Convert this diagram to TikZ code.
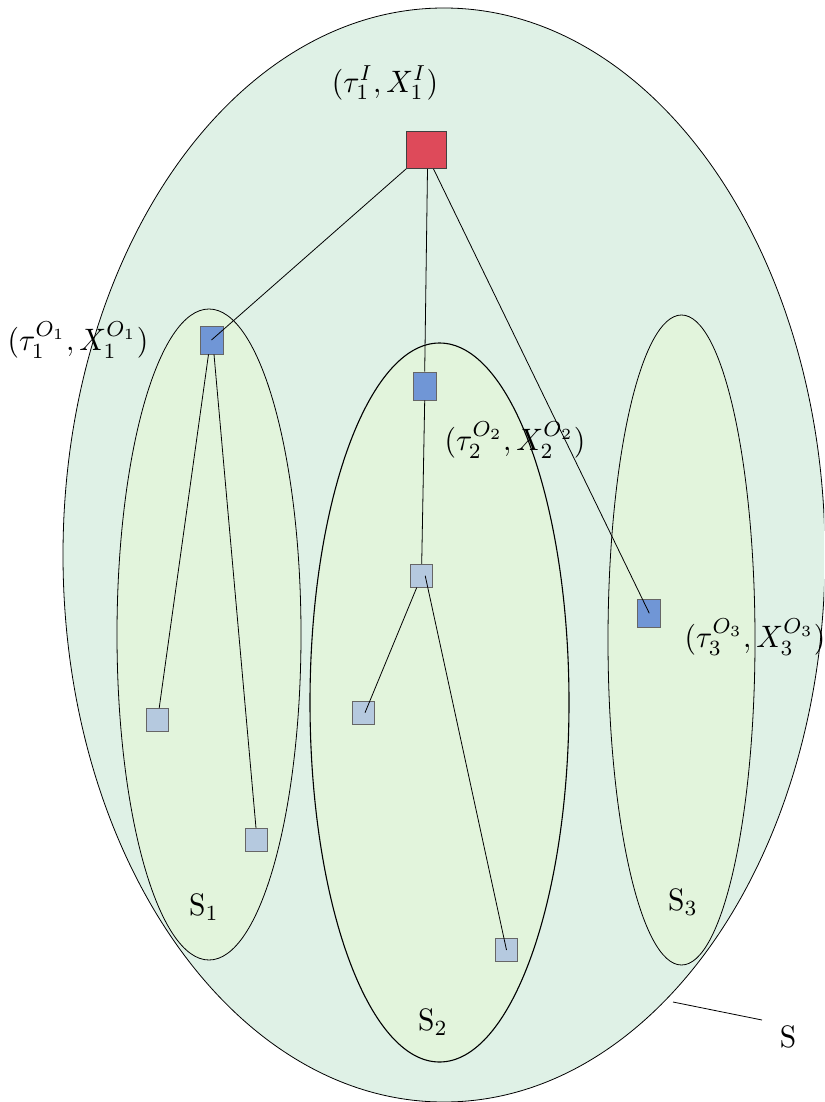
\documentclass[tikz,border=0pt]{standalone}
\begin{document}
\begin{tikzpicture}[x=1pt,y=-1pt,
  outerset/.style={draw=black,fill=outerfill,line width=0.8pt},
  innerset/.style={draw=black,fill=innerfill,line width=0.8pt},
  rootbox/.style={draw=black!75,fill=rootred,minimum width=40pt,minimum height=37pt,inner sep=0pt,line width=0.8pt},
  midbox/.style={draw=black!60,fill=midblue,minimum width=23pt,minimum height=28pt,inner sep=0pt,line width=0.8pt},
  leafbox/.style={draw=black!60,fill=leafblue,minimum width=22pt,minimum height=23pt,inner sep=0pt,line width=0.8pt},
  edge/.style={draw=black,line width=0.8pt},
  lbl/.style={xscale=2.95,yscale=3.1,inner sep=0pt},
]
\definecolor{outerfill}{HTML}{DFF1E6}
\definecolor{innerfill}{HTML}{E2F4DC}
\definecolor{rootred}{HTML}{DE4A5A}
\definecolor{midblue}{HTML}{7096D6}
\definecolor{leafblue}{HTML}{B5C9DF}
\useasboundingbox (0,0) rectangle (824,1102);
\begin{scope}
\clip (0,0) rectangle (824,1102);
\draw[outerset] (444,555) ellipse [x radius=381, y radius=547];
\end{scope}
\draw[innerset] (209,634.5) ellipse [x radius=92, y radius=325.5];
\draw[innerset,line width=1.1pt] (439.5,702.5) ellipse [x radius=129.5, y radius=359.5];
\draw[innerset] (681.5,640) ellipse [x radius=73.5, y radius=325];

\node[rootbox] (r) at (426.5,150) {};
\node[midbox] (b1) at (211.5,340) {};
\node[midbox] (b2) at (424.7,386) {};
\node[midbox] (b3) at (649.3,613.3) {};
\node[leafbox] (l1) at (157.7,720) {};
\node[leafbox] (l2) at (256,840) {};
\node[leafbox] (m) at (421.7,575.7) {};
\node[leafbox] (m1) at (363,712.7) {};
\node[leafbox] (m2) at (506.5,950) {};

\draw[edge] (r.south west) -- (b1.center);
\draw[edge] ([xshift=1pt]r.south) -- (b2.north);
\draw[edge] ([xshift=7pt]r.south) -- (b3.center);
\draw[edge] ([xshift=-3pt]b1.south) -- ([xshift=1.5pt]l1.north);
\draw[edge] ([xshift=2.5pt]b1.south) -- (l2.north);
\draw[edge] (b2.south) -- (m.north);
\draw[edge] ([xshift=-5pt]m.south) -- ([xshift=2pt]m1.center);
\draw[edge] ([xshift=3.5pt]m.center) -- (m2.center);

\node[lbl] (t1) at (385,83) {$(\tau_1^I,X_1^I)$};
\node[lbl] (t2) at (78,340) {$(\tau_1^{O_1},X_1^{O_1})$};
\node[lbl] (t3) at (515,440) {$(\tau_2^{O_2},X_2^{O_2})$};
\node[lbl] (t4) at (755,637) {$(\tau_3^{O_3},X_3^{O_3})$};
\node[lbl] (s1) at (204,907) {S$_1$};
\node[lbl] (s2) at (433,1022) {S$_2$};
\node[lbl] (s3) at (683,902) {S$_3$};
\node[lbl] (s) at (788,1037) {S};
\coordinate (sp) at (673,1002);
\coordinate (se) at (762,1020);
\draw[edge] (sp) -- (se);
\end{tikzpicture}
\end{document}
